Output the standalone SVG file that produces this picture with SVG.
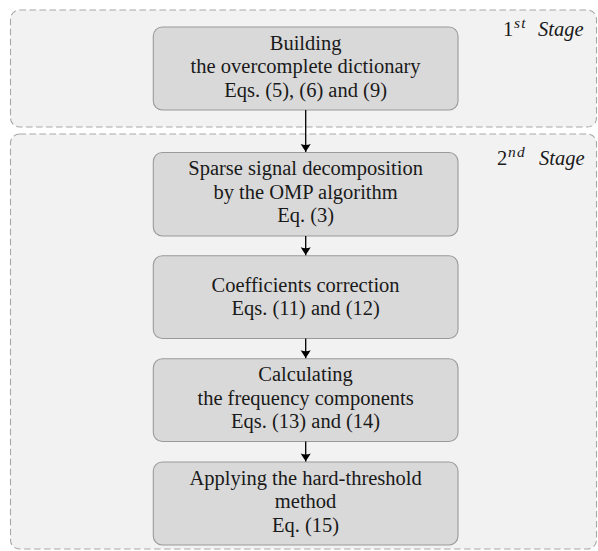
<svg xmlns="http://www.w3.org/2000/svg" width="598" height="551" viewBox="0 0 598 551">
<style>
.stage{fill:#f2f2f2;stroke:#a8a8a8;stroke-width:1.1;stroke-dasharray:6.5,3.5}
.node rect{fill:#d9d9d9;stroke:#9a9a9a;stroke-width:1.1}
.t{font-family:"Liberation Serif","Times New Roman",serif;font-size:20.5px;fill:#1a1a1a;text-anchor:middle}
.lab{font-family:"Liberation Serif","Times New Roman",serif;font-size:20.5px;fill:#1a1a1a}
.it{font-style:italic}
.sup{font-style:italic;font-size:15.5px;letter-spacing:1.2px}
.conn line{stroke:#000;stroke-width:1.3;fill:none}
</style>
<defs>
<marker id="arr" markerUnits="userSpaceOnUse" markerWidth="12" markerHeight="12" viewBox="-10 -6 12 12" refX="0" refY="0" orient="auto">
<path d="M0,0 C-2,-1 -5,-3.2 -8,-5 Q-6,0 -8,5 C-5,3.2 -2,1 0,0 Z" fill="#000"/>
</marker>
</defs>
<g id="stage1">
<rect class="stage" x="10.5" y="10" width="586" height="117" rx="9"/>
<text class="lab" x="503" y="36">1<tspan class="sup" x="514" dy="-8">st</tspan><tspan class="it" x="538" dy="8">Stage</tspan></text>
</g>
<g id="stage2">
<rect class="stage" x="10.5" y="134" width="586" height="415" rx="9"/>
<text class="lab" x="497" y="165">2<tspan class="sup" x="508" dy="-8">nd</tspan><tspan class="it" x="539" dy="8">Stage</tspan></text>
</g>
<g id="n1" class="node">
<rect x="153.3" y="27" width="304.7" height="83" rx="9"/>
<text class="t" x="305.6" y="49.5">Building</text>
<text class="t" x="305.6" y="73.2">the overcomplete dictionary</text>
<text class="t" x="305.6" y="96.9">Eqs. (5), (6) and (9)</text>
</g>
<g id="n2" class="node">
<rect x="153.3" y="152.5" width="304.7" height="83.5" rx="9"/>
<text class="t" x="305.6" y="175">Sparse signal decomposition</text>
<text class="t" x="305.6" y="198.7">by the OMP algorithm</text>
<text class="t" x="305.6" y="222.4">Eq. (3)</text>
</g>
<g id="n3" class="node">
<rect x="153.3" y="255.7" width="304.7" height="82.8" rx="9"/>
<text class="t" x="305.6" y="291.5">Coefficients correction</text>
<text class="t" x="305.6" y="315.2">Eqs. (11) and (12)</text>
</g>
<g id="n4" class="node">
<rect x="153.3" y="358.7" width="304.7" height="82.8" rx="9"/>
<text class="t" x="305.6" y="381">Calculating</text>
<text class="t" x="305.6" y="404.7">the frequency components</text>
<text class="t" x="305.6" y="428.4">Eqs. (13) and (14)</text>
</g>
<g id="n5" class="node">
<rect x="153.3" y="462" width="304.7" height="83" rx="9"/>
<text class="t" x="305.6" y="484.5">Applying the hard-threshold</text>
<text class="t" x="305.6" y="508.2">method</text>
<text class="t" x="305.6" y="531.9">Eq. (15)</text>
</g>
<g id="connectors" class="conn">
<line x1="305.7" y1="110" x2="305.7" y2="152" marker-end="url(#arr)"/>
<line x1="305.7" y1="236" x2="305.7" y2="255.2" marker-end="url(#arr)"/>
<line x1="305.7" y1="338.5" x2="305.7" y2="358.2" marker-end="url(#arr)"/>
<line x1="305.7" y1="441.5" x2="305.7" y2="461.5" marker-end="url(#arr)"/>
</g>
</svg>
